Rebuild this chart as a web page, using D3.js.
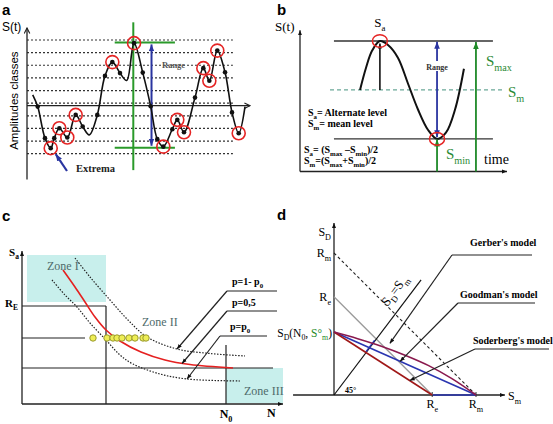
<!DOCTYPE html>
<html><head><meta charset="utf-8">
<script src="https://cdn.jsdelivr.net/npm/d3@7"></script>
<style>body{margin:0;background:#fff}svg{display:block}</style>
</head><body>
<svg id="c" width="553" height="424"></svg>
<script>
// ================= DATA =================
// Panel a : random load signal and amplitude classes
const aClassLevels = [-4, -3, -2, -1, 0, 1, 2, 3, 4, 5];
const aMeanLevel = -0.2;
const aTime   = [0.77,1.44,2.42,3.19,3.67,4.35,5.42,6.55,7.49,8.38,9.46,10.49,11.48,12.51,13.41,14.4,15.57,16.64,17.53,18.34,19.55,20.22,21.12,22.6,23.72,24.53,25.6,26.64,27.58,28.48,29.33];
const aSignal = [0.66,-0.27,-2.77,-3.56,-2.77,-1.98,-2.72,-0.93,-1.85,-2.51,-0.93,2.16,3.25,2.38,1.79,4.75,2.42,-0.25,-2.85,-3.44,-2.06,-1.32,-2.30,0.44,2.77,1.77,4.16,2.45,-0.73,-2.38,-0.27];
const aMarker = ["","d","d","c","d","c","c","c","d","","d","d","c","d","","c","d","d","d","c","d","c","c","d","c","c","c","d","d","c",""];
const aRangeTop = 4.8, aRangeBottom = -3.52, aRangeTime = 14.3;

// Panel b : one cycle
const bTime   = [2.9,3.19,3.48,3.86,4.25,4.73,5.22,5.7,6.18,6.62,7.05,7.49,7.92];
const bSignal = [2.5,3.18,3.7,4.0,3.88,3.49,2.69,1.9,1.28,1.0,1.19,1.9,3.15];
const bSmax = 4, bSmin = 1, bSm = 2.5;
const bPeakTime = 3.86, bTroughTime = 6.62, bSmaxTime = 8.5;

// Panel c : S-N curves (abscissa ~ log N, ordinate Sa)
const cRedN  = [4.1,5.3,6.3,7.3,8.4,9.8,11.9,14.3,16.8,21.1];
const cRedS  = [13.4,11.7,10.2,8.7,7.4,6.3,5.2,4.4,3.95,3.6];
const cUpN   = [5.3,6.8,8.8,10.6,12.5,15.5,18.8,22.3];
const cUpS   = [14.6,12.7,10.4,8.4,6.7,5.5,5.05,4.8];
const cLowN  = [3.0,4.3,5.5,6.8,8.4,9.8,11.1,13.8,16.5,21.8];
const cLowS  = [12.4,10.9,9.7,8.1,6.4,4.9,4.0,3.0,2.5,2.3];
const cTestN = [7.1,8.5,9.1,9.5,10.0,10.7,11.3,12.1,12.4];
const cTestS = 6.6;
const cRE = 9.8, cSD = 3.6, cN1 = 8.4, cN0 = 20.4;

// Panel d : Haigh diagram
const dRm = 600, dRe = 415, dSD0 = 266;
const dGerberSm = [0,100,200,300,400,500,600];
const dGerberSD = [266,238,206,168,124,68,0];
const d45End = [368, 486];
const dBlueSeg = [[133,180],[172,232]];

// ================= DRAWING =================
const svg = d3.select('#c');
const defs = svg.append('defs');
const SERIF = "'Liberation Serif','Times New Roman',serif";
const SANS = "'Liberation Sans',Arial,sans-serif";

function marker(id, color, size, open) {
  const m = defs.append('marker').attr('id', id).attr('viewBox', '0 0 10 10')
    .attr('refX', open ? 9 : 10).attr('refY', 5).attr('markerWidth', size).attr('markerHeight', size)
    .attr('orient', 'auto-start-reverse').attr('markerUnits', 'userSpaceOnUse');
  if (open) m.append('path').attr('d', 'M1,1 L9,5 L1,9').attr('fill', 'none').attr('stroke', color).attr('stroke-width', 1.6);
  else m.append('path').attr('d', 'M0,1 L10,5 L0,9 Z').attr('fill', color);
}
marker('arOpen', '#222', 7, true);
marker('arK', '#111', 7, false);
marker('arKs', '#111', 5, false);
marker('arB', '#2a35a0', 7, false);
marker('arG', '#1f8a28', 7, false);

function line(g, x1, y1, x2, y2, stroke, w, extra) {
  const l = g.append('line').attr('x1', x1).attr('y1', y1).attr('x2', x2).attr('y2', y2)
    .attr('stroke', stroke).attr('stroke-width', w);
  if (extra) Object.entries(extra).forEach(([k, v]) => l.attr(k, v));
  return l;
}
function rich(g, x, y, parts, o) {
  const t = g.append('text').attr('x', x).attr('y', y).attr('font-family', o.family || SERIF)
    .attr('font-size', o.size).attr('font-weight', o.weight || 'normal').attr('fill', o.fill || '#000');
  if (o.anchor) t.attr('text-anchor', o.anchor);
  let prev = 'n';
  const sh = o.size * 0.3;
  parts.forEach(([s, k, c]) => {
    const ts = t.append('tspan').text(s);
    let dy = 0;
    if (k === 'sub' && prev !== 'sub') dy = sh;
    if (k !== 'sub' && prev === 'sub') dy = -sh;
    if (dy) ts.attr('dy', dy);
    if (k === 'sub') ts.attr('font-size', o.size * 0.68);
    if (c) ts.attr('fill', c);
    prev = k;
  });
  return t;
}

// panel letters
[['a', 2, 15], ['b', 277, 15], ['c', 2, 221], ['d', 277, 220]].forEach(([s, x, y]) =>
  svg.append('text').attr('x', x).attr('y', y).attr('font-family', SANS).attr('font-weight', 'bold')
    .attr('font-size', 15).text(s));

// ---------------- Panel a ----------------
{
  const g = svg.append('g');
  const x = d3.scaleLinear().domain([0, 30]).range([27, 250]);
  const y = d3.scaleLinear().domain([-4, 5]).range([153.7, 40]);
  aClassLevels.forEach(v => line(g, x(0), y(v), x(27.7), y(v), '#333', 1.2, { 'stroke-dasharray': '2,2' }));
  line(g, x(0), y(-6.05), x(0), y(5.95), '#222', 1.3, { 'marker-end': 'url(#arOpen)' });
  line(g, x(0), y(aMeanLevel), x(30), y(aMeanLevel), '#222', 1.3, { 'marker-end': 'url(#arOpen)' });
  g.append('text').attr('x', 2).attr('y', 31).attr('font-family', SANS).attr('font-size', 12).text('S(t)');
  g.append('text').attr('transform', `translate(18,${y(0.2)}) rotate(-90)`).attr('text-anchor', 'middle')
    .attr('font-family', SANS).attr('font-size', 11.5).text('Amplitudes classes');
  // range markers
  line(g, x(aRangeTime), y(6.4), x(aRangeTime), y(-5.3), '#2a9a2a', 2);
  line(g, x(11.8), y(aRangeTop), x(19.9), y(aRangeTop), '#2a9a2a', 2);
  line(g, x(11.8), y(aRangeBottom), x(19.9), y(aRangeBottom), '#2a9a2a', 2);
  line(g, x(16.75), y(aRangeBottom + 0.15), x(16.75), y(aRangeTop - 0.15), '#2a35a0', 2,
    { 'marker-end': 'url(#arB)', 'marker-start': 'url(#arB)' });
  g.append('text').attr('x', 162).attr('y', 68).attr('font-family', SERIF).attr('font-size', 8.5)
    .attr('font-weight', 'bold').attr('fill', '#555').text('Range');
  // signal
  const pts = aTime.map((t, i) => [x(t), y(aSignal[i])]);
  g.append('path').attr('d', d3.line().curve(d3.curveCatmullRom.alpha(0.5))(pts))
    .attr('fill', 'none').attr('stroke', '#111').attr('stroke-width', 1.6);
  pts.forEach((p, i) => {
    if (aMarker[i]) g.append('circle').attr('cx', p[0]).attr('cy', p[1]).attr('r', 2.3).attr('fill', '#111');
    if (aMarker[i] === 'c') g.append('circle').attr('cx', p[0]).attr('cy', p[1]).attr('r', 6.5)
      .attr('fill', 'none').attr('stroke', '#e52424').attr('stroke-width', 1.6);
  });
  line(g, 67, 171, x(aTime[3]) + 5, y(aSignal[3]) + 6, '#2a35a0', 2.2, { 'marker-end': 'url(#arB)' });
  g.append('text').attr('x', 76).attr('y', 172).attr('font-family', SERIF).attr('font-size', 10.5)
    .attr('font-weight', 'bold').attr('fill', '#222').text('Extrema');
}

// ---------------- Panel b ----------------
{
  const g = svg.append('g');
  const x = d3.scaleLinear().domain([0, 10]).range([300, 507]);
  const y = d3.scaleLinear().domain([0, 4]).range([171.5, 41]);
  line(g, x(0), y(0), x(0), y(4.33), '#222', 1.3, { 'marker-end': 'url(#arKs)' });
  line(g, x(0), y(0), x(10), y(0), '#222', 1.3, { 'marker-end': 'url(#arKs)' });
  line(g, x(1.64), y(bSmax), x(9.32), y(bSmax), '#333', 1.3);
  line(g, x(1.64), y(bSmin), x(9.32), y(bSmin), '#333', 1.3);
  line(g, x(1.45), y(bSm), x(9.76), y(bSm), '#6aa898', 1.3, { 'stroke-dasharray': '4,3' });
  const pts = bTime.map((t, i) => [x(t), y(bSignal[i])]);
  g.append('path').attr('d', d3.line().curve(d3.curveCatmullRom.alpha(0.5))(pts))
    .attr('fill', 'none').attr('stroke', '#111').attr('stroke-width', 2);
  line(g, x(bPeakTime), y(bSm), x(bPeakTime), y(bSmax - 0.08), '#111', 1.6, { 'marker-end': 'url(#arKs)' });
  // range arrow
  line(g, x(bTroughTime), y(bSmin + 0.05), x(bTroughTime), y(bSmax - 0.02), '#2a35a0', 1.8,
    { 'marker-end': 'url(#arB)', 'marker-start': 'url(#arB)' });
  g.append('rect').attr('x', x(bTroughTime) - 13).attr('y', 61).attr('width', 26).attr('height', 10).attr('fill', '#fff');
  g.append('text').attr('x', x(bTroughTime)).attr('y', 69.5).attr('text-anchor', 'middle').attr('font-family', SERIF)
    .attr('font-size', 8).attr('font-weight', 'bold').attr('fill', '#333').text('Range');
  line(g, x(bTroughTime), y(0), x(bTroughTime), y(bSmin - 0.02), '#1f8a28', 1.8, { 'marker-end': 'url(#arG)' });
  line(g, x(bSmaxTime), y(0), x(bSmaxTime), y(bSmax - 0.03), '#1f8a28', 1.8, { 'marker-end': 'url(#arG)' });
  [[bPeakTime, bSmax], [bTroughTime, bSmin]].forEach(([t, v]) =>
    g.append('ellipse').attr('cx', x(t)).attr('cy', y(v)).attr('rx', 7.5).attr('ry', 6.3)
      .attr('fill', 'none').attr('stroke', '#e52424').attr('stroke-width', 1.5));
  g.append('text').attr('x', 275).attr('y', 31).attr('font-family', SERIF).attr('font-size', 13).text('S(t)');
  rich(g, x(bPeakTime), 27, [['S'], ['a', 'sub']], { size: 13, anchor: 'middle' });
  rich(g, 486, 66, [['S'], ['max', 'sub']], { size: 15, fill: '#2a8a35' });
  rich(g, 508, 97, [['S'], ['m', 'sub']], { size: 15, fill: '#2a8a35' });
  rich(g, 446, 159, [['S'], ['min', 'sub']], { size: 15, fill: '#2a8a35' });
  g.append('text').attr('x', 484).attr('y', 164).attr('font-family', SERIF).attr('font-size', 14).text('time');
  const o = { size: 10, weight: 'bold' };
  rich(g, 308, 116, [['S'], ['a', 'sub'], ['= Alternate level']], o);
  rich(g, 308, 127, [['S'], ['m', 'sub'], ['= mean level']], o);
  rich(g, 304, 153, [['S'], ['a', 'sub'], ['= (S'], ['max', 'sub'], [' \u2013S'], ['min', 'sub'], [')/2']], o);
  rich(g, 304, 164, [['S'], ['m', 'sub'], ['=(S'], ['max', 'sub'], ['+S'], ['min', 'sub'], [')/2']], o);
}

// ---------------- Panel c ----------------
{
  const g = svg.append('g');
  const x = d3.scaleLinear().domain([0, 26.1]).range([22, 283]);
  const y = d3.scaleLinear().domain([0, 14.2]).range([404, 262]);
  const zone = '#c8efec';
  g.append('rect').attr('x', x(0.5)).attr('y', y(14.9)).attr('width', x(cN1) - x(0.5)).attr('height', y(cRE + 0.4) - y(14.9)).attr('fill', zone);
  g.append('rect').attr('x', x(cN0)).attr('y', y(cSD)).attr('width', x(26.1) - x(cN0)).attr('height', y(0.1) - y(cSD)).attr('fill', zone);
  line(g, x(0), y(0), x(0), y(15.3), '#222', 1.3, { 'marker-end': 'url(#arKs)' });
  line(g, x(0), y(0), x(26.1), y(0), '#222', 1.3, { 'marker-end': 'url(#arKs)' });
  line(g, x(0), y(cRE), x(cN1), y(cRE), '#222', 1.2);
  line(g, x(cN1), y(cRE), x(cN1), y(0), '#222', 1.2);
  line(g, x(0), y(cTestS), x(6.3), y(cTestS), '#222', 1.2);
  line(g, x(0), y(cSD), x(25.1), y(cSD), '#222', 1.2);
  line(g, x(cN0), y(5.9), x(cN0), y(0), '#222', 1.2);
  const ln = d3.line().curve(d3.curveCatmullRom.alpha(0.5));
  g.append('path').attr('d', ln(cUpN.map((n, i) => [x(n), y(cUpS[i])]))).attr('fill', 'none')
    .attr('stroke', '#222').attr('stroke-width', 1.2).attr('stroke-dasharray', '1.5,1.5');
  g.append('path').attr('d', ln(cLowN.map((n, i) => [x(n), y(cLowS[i])]))).attr('fill', 'none')
    .attr('stroke', '#222').attr('stroke-width', 1.2).attr('stroke-dasharray', '1.5,1.5');
  g.append('path').attr('d', ln(cRedN.map((n, i) => [x(n), y(cRedS[i])]))).attr('fill', 'none')
    .attr('stroke', '#e52020').attr('stroke-width', 1.6);
  cTestN.forEach(n => g.append('circle').attr('cx', x(n)).attr('cy', y(cTestS)).attr('r', 3.2)
    .attr('fill', '#eeee55').attr('stroke', '#9a9a30').attr('stroke-width', 1));
  const zc = '#4f6b6b';
  g.append('text').attr('x', 47).attr('y', 270).attr('font-family', SERIF).attr('font-size', 12).attr('fill', zc).text('Zone I');
  g.append('text').attr('x', 142).attr('y', 326).attr('font-family', SERIF).attr('font-size', 12).attr('fill', zc).text('Zone II');
  g.append('text').attr('x', 244).attr('y', 395).attr('font-family', SERIF).attr('font-size', 12).attr('fill', zc).text('Zone III');
  rich(g, 9, 256, [['S'], ['a', 'sub']], { size: 11, weight: 'bold' });
  rich(g, 5, 307, [['R'], ['E', 'sub']], { size: 11, weight: 'bold' });
  rich(g, x(cN0), 418, [['N'], ['0', 'sub']], { size: 12, weight: 'bold', anchor: 'middle' });
  g.append('text').attr('x', 267).attr('y', 417).attr('font-family', SERIF).attr('font-size', 12).attr('font-weight', 'bold').text('N');
  // leaders
  const leaders = [
    { parts: [['p=1- p'], ['0', 'sub']], tx: 232, ty: 285, ly: 291, x0: 227, x1: 277, tip: [15.5, 5.5] },
    { parts: [['p=0,5']], tx: 232, ty: 306, ly: 311, x0: 227, x1: 277, tip: [16.0, 4.05] },
    { parts: [['p=p'], ['0', 'sub']], tx: 230, ty: 330, ly: 336, x0: 220, x1: 267, tip: [16.5, 2.5] }
  ];
  leaders.forEach(L => {
    rich(g, L.tx, L.ty, L.parts, { size: 10, weight: 'bold' });
    line(g, L.x0, L.ly, L.x1, L.ly, '#222', 1.2);
    line(g, L.x0, L.ly, x(L.tip[0]), y(L.tip[1]), '#222', 1.2, { 'marker-end': 'url(#arKs)' });
  });
}

// ---------------- Panel d ----------------
{
  const g = svg.append('g');
  const x = d3.scaleLinear().domain([0, 600]).range([334, 476]);
  const y = d3.scaleLinear().domain([0, 600]).range([395, 253]);
  line(g, x(-173), y(0), x(722), y(0), '#222', 1.3, { 'marker-end': 'url(#arKs)' });
  line(g, x(0), y(0), x(0), y(727), '#222', 1.3, { 'marker-end': 'url(#arKs)' });
  line(g, x(dRe), y(0), x(dRm), y(0), '#2a35b0', 1.5);
  line(g, x(dRe), y(0) - 3, x(dRe), y(0) + 2, '#333', 1);
  line(g, x(dRm), y(0) - 3, x(dRm), y(0) + 2, '#333', 1);
  line(g, x(0), y(dRm), x(dRm), y(0), '#222', 1.1, { 'stroke-dasharray': '3,2.5' });
  line(g, x(0), y(dRe), x(dRe), y(0), '#999', 1.3);
  line(g, x(0), y(0), x(d45End[0]), y(d45End[1]), '#111', 1.2);
  line(g, x(dBlueSeg[0][0]), y(dBlueSeg[0][1]), x(dBlueSeg[1][0]), y(dBlueSeg[1][1]), '#2a35b0', 1.4);
  line(g, x(0), y(dSD0), x(dRm), y(0), '#2a35b0', 1.6);
  line(g, x(0), y(dSD0), x(dRe), y(0), '#a01818', 1.6);
  g.append('path').attr('d', d3.line().curve(d3.curveCatmullRom.alpha(0.5))(dGerberSm.map((s, i) => [x(s), y(dGerberSD[i])])))
    .attr('fill', 'none').attr('stroke', '#8a1a4e').attr('stroke-width', 1.6);
  // labels
  rich(g, 331, 236, [['S'], ['D', 'sub']], { size: 12, anchor: 'end' });
  rich(g, 331, 257, [['R'], ['m', 'sub']], { size: 12, anchor: 'end' });
  rich(g, 331, 301, [['R'], ['e', 'sub']], { size: 12, anchor: 'end' });
  rich(g, 332, 337, [['S'], ['D', 'sub'], ['(N'], ['0', 'sub'], [', '], ['S°', 'n', '#1f8a28'], ['m', 'sub', '#1f8a28'], [')']], { size: 11.5, anchor: 'end' });
  rich(g, x(dRe), 408, [['R'], ['e', 'sub']], { size: 12, anchor: 'middle' });
  rich(g, x(dRm), 408, [['R'], ['m', 'sub']], { size: 12, anchor: 'middle' });
  rich(g, 508, 400, [['S'], ['m', 'sub']], { size: 12 });
  g.append('text').attr('x', 345).attr('y', 393).attr('font-family', SERIF).attr('font-size', 8).attr('font-weight', 'bold').text('45°');
  const ang = Math.atan2(y(d45End[1]) - y(0), x(d45End[0]) - x(0)) * 180 / Math.PI;
  rich(g, 0, 0, [['S'], ['D', 'sub'], ['=S'], ['m', 'sub']], { size: 13, anchor: 'middle' })
    .attr('transform', `translate(398,293) rotate(${ang})`);
  const o = { size: 10, weight: 'bold' };
  const leaders = [
    { text: "Gerber's model", tx: 470, ty: 246, ly: 255, x0: 452, x1: 532, tip: [x(236), y(218)] },
    { text: "Goodman's model", tx: 460, ty: 298, ly: 303, x0: 458, x1: 535, tip: [x(279), y(142)] },
    { text: "Soderberg's model", tx: 473, ty: 344, ly: 349, x0: 475, x1: 549, tip: [x(320), y(61)] }
  ];
  leaders.forEach(L => {
    rich(g, L.tx, L.ty, [[L.text]], o);
    line(g, L.x0, L.ly, L.x1, L.ly, '#222', 1.2);
    line(g, L.x0, L.ly, L.tip[0], L.tip[1], '#222', 1.2, { 'marker-end': 'url(#arKs)' });
  });
}
</script>
</body></html>
